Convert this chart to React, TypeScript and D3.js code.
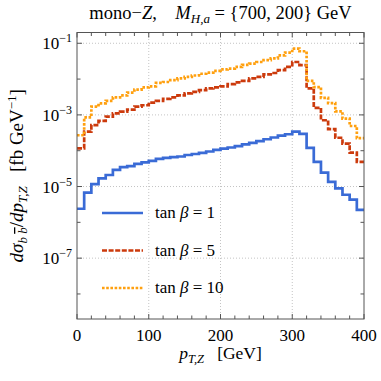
import React from "react";
import * as d3 from "d3";

// bin edges of the p_T,Z histogram (GeV)
const binEdges = d3.range(0, 401, 10);

// dsigma/dpT per 10 GeV bin (fb/GeV)
const tanb1 = [
  2.4e-6, 6.8e-6, 1.17e-5, 1.7e-5, 2.1e-5, 2.9e-5, 3.5e-5, 3.7e-5, 4.3e-5, 4.7e-5,
  5.2e-5, 5.9e-5, 6.3e-5, 6.6e-5, 6.9e-5, 7.6e-5, 8.1e-5, 8.7e-5, 9.5e-5, 1.05e-4,
  1.15e-4, 1.23e-4, 1.35e-4, 1.51e-4, 1.66e-4, 1.86e-4, 2.09e-4, 2.34e-4, 2.63e-4, 2.88e-4,
  3.4e-4, 2.95e-4, 1.2e-4, 4.9e-5, 2.45e-5, 1.35e-5, 8.9e-6, 5.9e-6, 4.3e-6, 2.24e-6,
];
const tanb5 = [
  1.17e-4, 3.4e-4, 5.2e-4, 6.8e-4, 8.9e-4, 1.1e-3, 1.23e-3, 1.41e-3, 1.7e-3, 1.86e-3,
  2.19e-3, 2.45e-3, 2.8e-3, 3.1e-3, 3.5e-3, 4.0e-3, 4.4e-3, 4.9e-3, 5.5e-3, 5.9e-3,
  6.3e-3, 7.2e-3, 8.1e-3, 8.9e-3, 1.05e-2, 1.15e-2, 1.35e-2, 1.48e-2, 1.78e-2, 2.19e-2,
  3.0e-2, 2.45e-2, 5.5e-3, 1.58e-3, 7.1e-4, 4.0e-4, 2.3e-4, 1.58e-4, 8.9e-5, 4.9e-5,
];
const tanb10 = [
  2.7e-4, 8.5e-4, 1.7e-3, 2.1e-3, 2.45e-3, 3.1e-3, 3.5e-3, 4.2e-3, 5.1e-3, 5.9e-3,
  6.3e-3, 7.8e-3, 8.3e-3, 9.3e-3, 1.05e-2, 1.15e-2, 1.26e-2, 1.41e-2, 1.51e-2, 1.7e-2,
  1.86e-2, 1.95e-2, 2.19e-2, 2.5e-2, 2.7e-2, 3.0e-2, 3.4e-2, 3.8e-2, 4.6e-2, 5.5e-2,
  7.1e-2, 6.0e-2, 8.9e-3, 6.0e-3, 3.0e-3, 2.14e-3, 1.26e-3, 7.9e-4, 4.9e-4, 2.24e-4,
];

const legendLabels = ["1", "5", "10"];
const xTicks = [0, 100, 200, 300, 400];
const xMinor = d3.range(0, 401, 20);
const yExps = [-1, -3, -5, -7];
const yMinorExps = [-1, -2, -3, -4, -5, -6, -7, -8];

const width = 381;
const height = 381;
const margin = { top: 32.5, right: 17, bottom: 62, left: 77 };
const font = { fontFamily: "Liberation Serif" };

const series = [
  { values: tanb1, color: "#3a6bd6", dash: null, label: legendLabels[0] },
  { values: tanb5, color: "#cc3a0c", dash: "5,1.6", label: legendLabels[1] },
  { values: tanb10, color: "#ffa00f", dash: "2.6,1.6", label: legendLabels[2] },
];

const App = () => {
  const x = d3.scaleLinear().domain([0, 400]).range([margin.left, width - margin.right]);
  const y = d3.scaleLog().domain([2e-9, 0.2]).range([height - margin.bottom, margin.top]);
  const x0 = x.range()[0], x1 = x.range()[1];
  const y0 = y.range()[0], y1 = y.range()[1];

  const line = d3
    .line<[number, number]>()
    .x((d) => x(d[0]))
    .y((d) => y(d[1]))
    .curve(d3.curveStepAfter);

  const stepPoints = (vals: number[]) =>
    binEdges.map((e, i) => [e, vals[Math.min(i, vals.length - 1)]] as [number, number]);

  return (
    <svg width={width} height={height} style={{ position: "absolute", left: 0, top: 0, background: "#fff" }}>
      {/* grid */}
      {[100, 200, 300].map((t) => (
        <line key={"gx" + t} x1={x(t)} x2={x(t)} y1={y0} y2={y1} stroke="#c4c4c4" strokeDasharray="1,2" />
      ))}
      {yExps.map((e) => (
        <line key={"gy" + e} x1={x0} x2={x1} y1={y(10 ** e)} y2={y(10 ** e)} stroke="#c4c4c4" strokeDasharray="1,2" />
      ))}

      {/* curves */}
      <defs>
        <clipPath id="plotclip">
          <rect x={x0} y={y1} width={x1 - x0} height={y0 - y1} />
        </clipPath>
      </defs>
      <g clipPath="url(#plotclip)">
        {series.map((s, i) => (
          <path
            key={i}
            d={line(stepPoints(s.values)) || ""}
            fill="none"
            stroke={s.color}
            strokeWidth={2.7}
            strokeDasharray={s.dash || undefined}
          />
        ))}
      </g>

      {/* frame */}
      <rect x={x0} y={y1} width={x1 - x0} height={y0 - y1} fill="none" stroke="#555" strokeWidth={1} />
      {xMinor.map((t) => {
        const len = t % 100 === 0 ? 5 : 3.5;
        return (
          <g key={"xt" + t} stroke="#555">
            <line x1={x(t)} x2={x(t)} y1={y0} y2={y0 - len} />
            <line x1={x(t)} x2={x(t)} y1={y1} y2={y1 + len} />
          </g>
        );
      })}
      {yMinorExps.map((e) => {
        const len = e % 2 !== 0 ? 5 : 3.5;
        return (
          <g key={"yt" + e} stroke="#555">
            <line x1={x0} x2={x0 + len} y1={y(10 ** e)} y2={y(10 ** e)} />
            <line x1={x1} x2={x1 - len} y1={y(10 ** e)} y2={y(10 ** e)} />
          </g>
        );
      })}

      {/* tick labels */}
      {xTicks.map((t) => (
        <text key={"xl" + t} x={x(t)} y={y0 + 22} textAnchor="middle" style={font} fontSize={17}>
          {t}
        </text>
      ))}
      {yExps.map((e) => (
        <text key={"yl" + e} x={x0 - 5} y={y(10 ** e) + 6} textAnchor="end" style={font} fontSize={17}>
          10
          <tspan fontSize={12} dy={-7}>
            {"\u2212" + Math.abs(e)}
          </tspan>
        </text>
      ))}

      {/* title */}
      <text x={(x0 + x1) / 2} y={19} textAnchor="middle" style={font} fontSize={18.5}>
        mono{"\u2212"}
        <tspan fontStyle="italic">Z</tspan>,{"\u2003"}
        <tspan fontStyle="italic">M</tspan>
        <tspan fontStyle="italic" fontSize={13} dy={4}>H,a</tspan>
        <tspan dy={-4}> = {"{"}700, 200{"}"} GeV</tspan>
      </text>

      {/* x axis title */}
      <text x={(x0 + x1) / 2} y={359} textAnchor="middle" style={font} fontSize={17.5}>
        <tspan fontStyle="italic">p</tspan>
        <tspan fontStyle="italic" fontSize={12.5} dy={4}>T,Z</tspan>
        <tspan dy={-4}>{"\u2002"} [GeV]</tspan>
      </text>

      {/* y axis title */}
      <text
        transform={`translate(23, ${(y0 + y1) / 2}) rotate(-90)`}
        textAnchor="middle"
        style={font}
        fontSize={19}
      >
        <tspan fontStyle="italic">dσ</tspan>
        <tspan fontStyle="italic" fontSize={13} dy={4}>b </tspan>
        <tspan fontStyle="italic" fontSize={13} textDecoration="overline">b</tspan>
        <tspan dy={-4}>/</tspan>
        <tspan fontStyle="italic">dp</tspan>
        <tspan fontStyle="italic" fontSize={13} dy={4}>T,Z</tspan>
        <tspan dy={-4}>{"\u2002"} [fb GeV</tspan>
        <tspan fontSize={13} dy={-7}>{"\u2212"}1</tspan>
        <tspan dy={7}>]</tspan>
      </text>

      {/* legend */}
      {series.map((s, i) => {
        const ly = 213 + i * 37.5;
        return (
          <g key={"lg" + i}>
            <line x1={102} x2={143} y1={ly} y2={ly} stroke={s.color} strokeWidth={2.7} strokeDasharray={s.dash || undefined} />
            <text x={155} y={ly + 5} style={font} fontSize={17}>
              tan <tspan fontStyle="italic">β</tspan> = {s.label}
            </text>
          </g>
        );
      })}
    </svg>
  );
};

export default App;
